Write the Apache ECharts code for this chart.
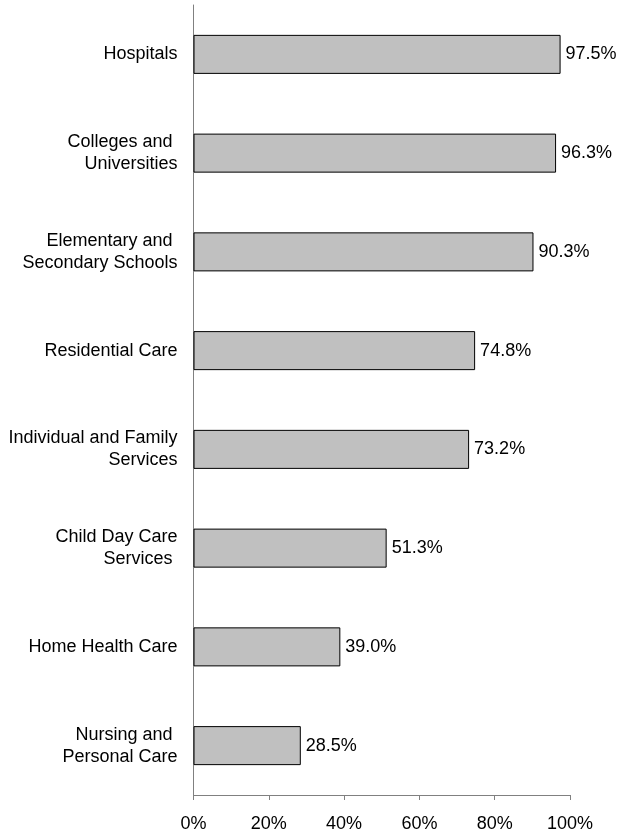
<!DOCTYPE html>
<html>
<head>
<meta charset="utf-8">
<script src="https://cdn.jsdelivr.net/npm/echarts@6/dist/echarts.min.js"></script>
<style>
  html, body { margin: 0; padding: 0; background: #fff; }
  #chart { width: 624px; height: 836px; }
</style>
</head>
<body>
<div id="chart"></div>
<script>
// Share of workplaces by industry (percent)
const categories = [
  'Hospitals',
  'Colleges and \nUniversities',
  'Elementary and \nSecondary Schools',
  'Residential Care',
  'Individual and Family\nServices',
  'Child Day Care\nServices ',
  'Home Health Care',
  'Nursing and \nPersonal Care'
];
const values = [97.5, 96.3, 90.3, 74.8, 73.2, 51.3, 39.0, 28.5];
const xTicks = [0, 20, 40, 60, 80, 100];

const font = 'Liberation Sans, Arial, sans-serif';
const chart = echarts.init(document.getElementById('chart'), null, { renderer: 'canvas' });
chart.setOption({
  animation: false,
  backgroundColor: '#ffffff',
  grid: { left: 193.5, right: 54, top: 5, bottom: 41, containLabel: false },
  xAxis: {
    type: 'value',
    min: xTicks[0],
    max: xTicks[xTicks.length - 1],
    interval: 20,
    splitLine: { show: false },
    axisLine: { show: true, lineStyle: { color: '#808080', width: 1 } },
    axisTick: { show: true, length: 5, lineStyle: { color: '#808080' } },
    axisLabel: {
      margin: 20,
      color: '#000',
      fontFamily: font,
      fontSize: 18,
      formatter: v => v + '%'
    }
  },
  yAxis: {
    type: 'category',
    inverse: true,
    data: categories,
    axisLine: { show: true, lineStyle: { color: '#808080', width: 1 } },
    axisTick: { show: false },
    axisLabel: {
      margin: 16,
      color: '#000',
      fontFamily: font,
      fontSize: 18,
      lineHeight: 22,
      align: 'right'
    }
  },
  series: [{
    type: 'bar',
    data: values,
    barWidth: '39.5%',
    itemStyle: { color: '#c0c0c0', borderColor: '#000', borderWidth: 1 },
    label: {
      show: true,
      position: 'right',
      distance: 5,
      color: '#000',
      fontFamily: font,
      fontSize: 18,
      formatter: p => p.value.toFixed(1) + '%'
    }
  }]
});
</script>
</body>
</html>
